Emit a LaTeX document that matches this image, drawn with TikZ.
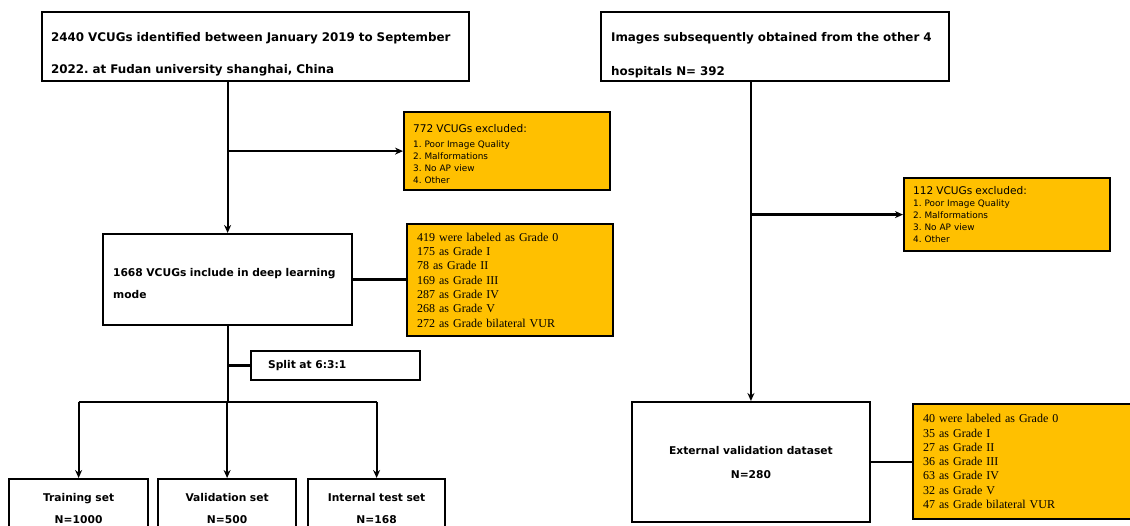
\documentclass[tikz,border=0pt]{standalone}
\usepackage{fontspec}
\setmainfont{DejaVu Sans}
\newfontfamily\gradefont{Liberation Serif}
\usetikzlibrary{arrows.meta}
\definecolor{boxorange}{HTML}{FFC000}
\newcommand{\boxlift}[1]{\rule{0pt}{#1}}
\frenchspacing

\begin{document}
\begin{tikzpicture}[x=1pt, y=-1pt]
    % 定义样式
    \tikzstyle{whitebox}=[draw=black, line width=2.2pt, fill=white, anchor=north west, inner ysep=0pt, align=left]
    \tikzstyle{orangebox}=[whitebox, fill=boxorange]
    \tikzstyle{headtext}=[font=\bfseries\fontsize{11.9}{12}\selectfont]
    \tikzstyle{bodytext}=[font=\bfseries\fontsize{10.7}{22}\selectfont]
    \tikzstyle{setbox}=[whitebox, bodytext, align=center, inner xsep=4pt, inner ysep=14pt]
    \tikzstyle{excltext}=[font=\fontsize{8.9}{12}\selectfont, inner xsep=9pt]
    \tikzstyle{gradetext}=[font=\gradefont\fontsize{12}{14.3}\selectfont, inner xsep=10pt]
    \tikzstyle{link}=[line width=2.2pt]
    \tikzstyle{arrowstyle}=[link, ->, >={Stealth[length=8pt, width=7pt]}]

    \useasboundingbox (0,0) rectangle (1130,526);
    \clip (0,0) rectangle (1130,526);

    % 1. 左侧: 原始数据
    \node[whitebox, headtext, inner xsep=9pt, text width=409pt, minimum height=69pt] (vcug) at (41,11)
        {\boxlift{23.8pt}2440 VCUGs identified between January 2019 to September\\[20pt]2022. at Fudan university shanghai, China};

    \node[orangebox, excltext, text width=188pt, minimum height=78pt] (excl1) at (403,111)
        {{\fontsize{10.6}{12}\selectfont\boxlift{14.1pt}772 VCUGs excluded:}\\[2.4pt]1. Poor Image Quality\\2. Malformations\\3. No AP view\\4. Other};

    \node[whitebox, bodytext, inner xsep=10pt, text width=229pt, minimum height=91pt] (model) at (102,233)
        {\boxlift{15.2pt}1668 VCUGs include in deep learning\\mode};

    \node[orangebox, gradetext, text width=186pt, minimum height=112pt] (grade1) at (406,223)
        {419 were labeled as Grade 0\\175 as Grade I\\78 as Grade II\\169 as Grade III\\287 as Grade IV\\268 as Grade V\\272 as Grade bilateral VUR};

    \node[whitebox, bodytext, inner xsep=17pt, text width=135pt, minimum height=29pt] (split) at (250,350) {Split at 6:3:1};

    % 2. 三个数据集 (下边缘被裁掉)
    \node[setbox, text width=131pt] (train) at (8,478) {Training set\\N=1000};
    \node[setbox, text width=130pt] (valid) at (157,478) {Validation set\\N=500};
    \node[setbox, text width=129pt] (test) at (307,478) {Internal test set\\N=168};

    % 3. 右侧: 外部医院
    \node[whitebox, headtext, inner xsep=10pt, text width=328pt, minimum height=69pt] (hosp) at (600,11)
        {\boxlift{25.8pt}Images subsequently obtained from the other 4\\[22pt]hospitals N= 392};

    \node[orangebox, excltext, text width=188pt, minimum height=73pt] (excl2) at (903,177)
        {{\fontsize{10.6}{12}\selectfont 112 VCUGs excluded:}\\1. Poor Image Quality\\2. Malformations\\3. No AP view\\4. Other};

    \node[whitebox, bodytext, align=center, font=\bfseries\fontsize{10.7}{24}\selectfont, text width=231pt, minimum height=120pt] (extval) at (631,401)
        {External validation dataset\\N=280};

    \node[orangebox, gradetext, text width=220pt, minimum height=115pt] (grade2) at (912,403)
        {40 were labeled as Grade 0\\35 as Grade I\\27 as Grade II\\36 as Grade III\\63 as Grade IV\\32 as Grade V\\47 as Grade bilateral VUR};

    % 4. 连线
    \coordinate (splitrow) at (0,402);
    \coordinate (fork1) at (model.north |- excl1.west);
    \coordinate (branch) at (model.south |- splitrow);
    \coordinate (fork2) at (extval.north |- excl2.west);

    \draw[arrowstyle] (vcug.south -| model.north) -- (model.north);
    \draw[arrowstyle] (fork1) -- (excl1.west);
    \draw[link] (model.east) -- (grade1.west |- model.east);
    \draw[link] (model.south) -- (branch);
    \draw[link] (model.south |- split.west) -- (split.west);
    \draw[link] (train.north |- branch) -- (test.north |- branch);
    \foreach \s in {train, valid, test}
        \draw[arrowstyle] (\s.north |- branch) -- (\s.north);

    \draw[arrowstyle] (hosp.south -| extval.north) -- (extval.north);
    \draw[arrowstyle] (fork2) -- (excl2.west);
    \draw[link] (extval.east) -- (grade2.west |- extval.east);

\end{tikzpicture}
\end{document}
